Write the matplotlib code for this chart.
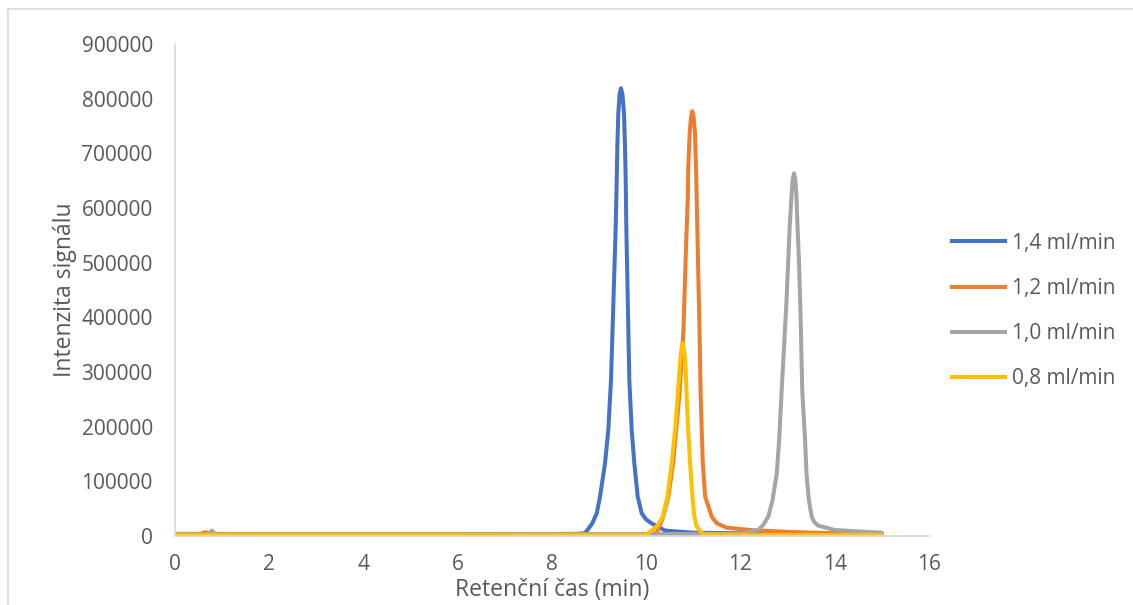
import matplotlib
matplotlib.use("Agg")
import matplotlib.pyplot as plt
from matplotlib.lines import Line2D

plt.rcParams['font.family'] = ['Open Sans', 'DejaVu Sans']

# retention time (min) / signal
t_14 = [0.0, 2.0, 4.0, 6.0, 8.0, 8.5, 8.70, 8.855, 8.949, 9.019, 9.125, 9.195, 9.252, 9.352, 9.373,
        9.386, 9.407, 9.435, 9.464, 9.495, 9.528, 9.549, 9.564, 9.577, 9.641, 9.691, 9.747, 9.819,
        9.903, 10.0, 10.116, 10.4, 11.0, 12.0, 13.0, 14.0, 15.0]
y_14 = [3000, 3000, 3000, 3000, 3500, 4000, 5000, 23000, 41500, 72000, 133000, 194000, 285000, 566000, 651000,
        712000, 773000, 808000, 819000, 808000, 773000, 712000, 651000, 566000, 285000, 194000, 133000, 72000,
        41500, 30000, 23000, 10000, 6000, 5000, 4000, 3500, 3000]

t_12 = [0.0, 0.55, 0.65, 0.75, 2.0, 6.0, 10.0, 10.22, 10.36, 10.47, 10.57, 10.70, 10.79, 10.844, 10.880,
        10.892, 10.922, 10.95, 10.977, 11.005, 11.034, 11.056, 11.071, 11.092, 11.13, 11.155, 11.20,
        11.25, 11.39, 11.5, 11.71, 12.34, 13.5, 15.0]
y_12 = [4000, 4000, 7000, 4000, 3000, 3000, 3000, 5500, 35300, 72000, 133000, 255000, 377000, 529000, 615000,
        676000, 737000, 766000, 777000, 766000, 737000, 676000, 615000, 529000, 377000, 255000, 133000,
        72000, 35300, 23000, 15000, 10000, 6000, 4000]

t_10 = [0.0, 0.7, 0.78, 0.86, 2.0, 6.0, 10.0, 12.0, 12.38, 12.48, 12.59, 12.68, 12.77, 12.82, 12.874,
        12.97, 13.014, 13.044, 13.086, 13.11, 13.135, 13.16, 13.184, 13.21, 13.24, 13.27, 13.31, 13.37,
        13.40, 13.45, 13.51, 13.57, 13.65, 14.0, 14.57, 15.0]
y_10 = [3000, 3000, 10000, 3000, 3000, 3000, 3500, 4000, 11000, 20100, 35300, 65900, 114700, 175600, 267000,
        419500, 505000, 566000, 627000, 654000, 663500, 654000, 627000, 566000, 505000, 419500, 267000, 175600,
        114700, 65900, 35300, 25000, 19000, 11000, 8000, 6000]

t_08 = [0.0, 2.0, 6.0, 10.0, 10.08, 10.22, 10.35, 10.45, 10.54, 10.61, 10.667, 10.716, 10.745, 10.77,
        10.80, 10.83, 10.858, 10.89, 10.93, 10.98, 11.02, 11.07, 11.21, 12.0, 15.0]
y_08 = [2000, 2000, 2000, 2000, 8000, 17000, 35300, 72000, 133000, 194000, 255000, 316000, 342000, 352500,
        342000, 316000, 255000, 194000, 133000, 72000, 35300, 17000, 3000, 2000, 2000]

series = [("1,4 ml/min", t_14, y_14, "#4472C4"),
          ("1,2 ml/min", t_12, y_12, "#ED7D31"),
          ("1,0 ml/min", t_10, y_10, "#A5A5A5"),
          ("0,8 ml/min", t_08, y_08, "#FFC000")]

fig = plt.figure(figsize=(11.33, 6.05), dpi=100)
ax = fig.add_axes([175/1133, 1-536/605, (929-175)/1133, (536-44)/605])

for name, t, y, c in series:
    ax.plot(t, y, color=c, lw=2.9, label=name, solid_capstyle='round', solid_joinstyle='round')

ax.set_xlim(0, 16)
ax.set_ylim(0, 900000)
ax.set_xticks(range(0, 17, 2))
ax.set_yticks(range(0, 900001, 100000))
ax.tick_params(length=0, labelsize=15, colors='#595959')
ax.tick_params(axis='y', pad=16)
ax.tick_params(axis='x', pad=13)
for s in ['top', 'right']:
    ax.spines[s].set_visible(False)
for s in ['left', 'bottom']:
    ax.spines[s].set_color('#d9d9d9')
    ax.spines[s].set_linewidth(1.2)

ax.set_xlabel('Retenční čas (min)', fontsize=16.5, color='#595959', labelpad=2)
ax.set_ylabel('Intenzita signálu', fontsize=16.5, color='#595959', labelpad=3)

handles = [Line2D([], [], color=c, lw=2.9) for _, _, _, c in series]
fig.legend(handles, [s[0] for s in series], loc='center left',
           bbox_to_anchor=(952/1133, 1-311/605), frameon=False,
           fontsize=15, labelcolor='#595959', handlelength=2.55,
           handletextpad=0.35, labelspacing=1.16, borderpad=0, borderaxespad=0)

# outer chart frame
fig.add_artist(Line2D([8/1133, 1.0], [1-9/605, 1-9/605], color='#d9d9d9', lw=1.2))
fig.add_artist(Line2D([8/1133, 8/1133], [0, 1-9/605], color='#d9d9d9', lw=1.2))

fig.savefig('out.png', dpi=100)
